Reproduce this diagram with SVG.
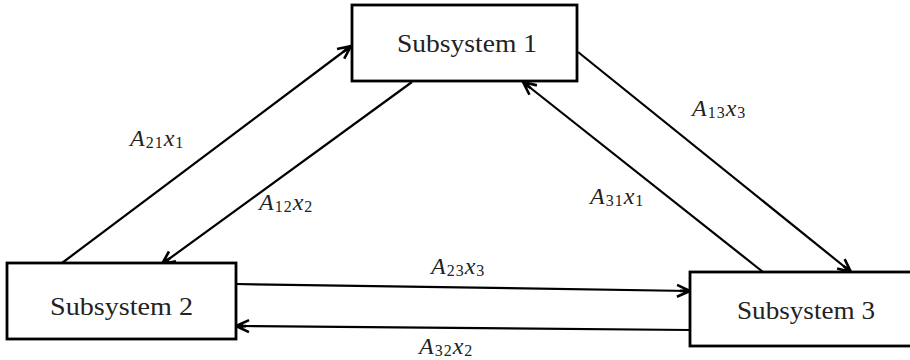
<svg xmlns="http://www.w3.org/2000/svg" width="910" height="360" viewBox="0 0 910 360">
<style>
.box{fill:#fff;stroke:#000;stroke-width:2.8}
.name{font-family:"Liberation Serif","Times New Roman",serif;font-size:26px;fill:#222}
.lbl{font-family:"Liberation Serif","Times New Roman",serif;font-style:italic;font-size:24px;fill:#222;letter-spacing:1px}
.sub{font-size:16px;font-style:normal}
.conn line{stroke:#000;stroke-width:2.2;fill:none;marker-end:url(#arr)}
</style>
<defs>
<marker id="arr" markerUnits="userSpaceOnUse" markerWidth="16" markerHeight="16" viewBox="0 0 16 16" refX="15" refY="8" orient="auto">
<path d="M2,2 L15,8 L2,14 M5,8 L15,8 M8,5 L15,8 L8,11" fill="none" stroke="#000" stroke-width="2.6" stroke-linejoin="miter"/>
</marker>
</defs>
<g id="connectors" class="conn">
<line x1="62" y1="263" x2="351" y2="46"/>
<line x1="412" y1="82" x2="162" y2="264"/>
<line x1="578" y1="52" x2="851" y2="272"/>
<line x1="763" y1="272" x2="523" y2="82"/>
<line x1="236" y1="284" x2="690" y2="291"/>
<line x1="690" y1="330" x2="236" y2="326"/>
</g>
<g id="node-subsystem1">
<rect class="box" x="352" y="5" width="225" height="76"/>
<text class="name" x="397" y="52" textLength="140" lengthAdjust="spacingAndGlyphs">Subsystem  1</text>
</g>
<g id="node-subsystem2">
<rect class="box" x="7" y="263" width="229" height="76"/>
<text class="name" x="50" y="315" textLength="143" lengthAdjust="spacingAndGlyphs">Subsystem  2</text>
</g>
<g id="node-subsystem3">
<rect class="box" x="690" y="272" width="222" height="74"/>
<text class="name" x="737" y="319" textLength="138" lengthAdjust="spacingAndGlyphs">Subsystem 3</text>
</g>
<g id="labels">
<text class="lbl" x="130" y="146">A<tspan class="sub" dy="2">21</tspan><tspan dy="-2">x</tspan><tspan class="sub" dy="2">1</tspan></text>
<text class="lbl" x="259" y="210">A<tspan class="sub" dy="2">12</tspan><tspan dy="-2">x</tspan><tspan class="sub" dy="2">2</tspan></text>
<text class="lbl" x="692" y="116">A<tspan class="sub" dy="2">13</tspan><tspan dy="-2">x</tspan><tspan class="sub" dy="2">3</tspan></text>
<text class="lbl" x="590" y="204">A<tspan class="sub" dy="2">31</tspan><tspan dy="-2">x</tspan><tspan class="sub" dy="2">1</tspan></text>
<text class="lbl" x="431" y="274">A<tspan class="sub" dy="2">23</tspan><tspan dy="-2">x</tspan><tspan class="sub" dy="2">3</tspan></text>
<text class="lbl" x="419" y="354">A<tspan class="sub" dy="2">32</tspan><tspan dy="-2">x</tspan><tspan class="sub" dy="2">2</tspan></text>
</g>
</svg>
